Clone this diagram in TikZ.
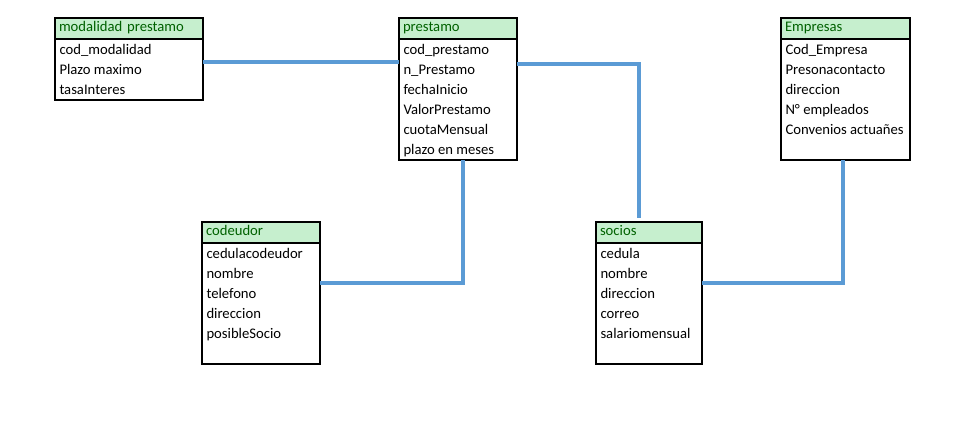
\documentclass[tikz,border=0pt]{standalone}
\usepackage{fontspec}
\setmainfont{Carlito}
\usetikzlibrary{positioning}
\definecolor{hdrgreen}{RGB}{198,239,206}
\definecolor{hdrtext}{RGB}{0,97,0}
\definecolor{linkblue}{RGB}{91,155,213}
\tikzset{every picture/.style={line width=0.75pt}}
\tikzset{
  tblhead/.style={draw, line width=1.5pt, outer sep=0pt, fill=hdrgreen, text=hdrtext, anchor=north west, inner xsep=3pt, inner ysep=0pt, minimum height=15.75pt, align=left, text height=7.5pt, text depth=2.5pt, font=\fontsize{11}{13}\selectfont},
  tblbody/.style={draw, line width=1.5pt, outer sep=0pt, inner sep=0pt},
  fld/.style={anchor=west, inner xsep=3pt, inner ysep=0pt, text height=7.5pt, text depth=2.5pt, font=\fontsize{11}{13}\selectfont},
  link/.style={draw=linkblue, line width=3pt}
}
\begin{document}
\begin{tikzpicture}[x=0.75pt,y=0.75pt,yscale=-1,xscale=1]
\useasboundingbox (0,0) rectangle (972,436);

%Table: modalidad prestamo
\node[tblhead, text width=105pt] (modhead) at (55,18) {modalidad prestamo};
\node[tblbody, below right=0pt of modhead.south west, minimum width=111pt, minimum height=45.75pt] (modbody) {};
\node[fld] (mod1) at (55,51.5) {cod\_modalidad};
\node[fld] (mod2) at (55,71.5) {Plazo maximo};
\node[fld] (mod3) at (55,91.5) {tasaInteres};

%Table: prestamo
\node[tblhead, text width=82.5pt] (prhead) at (399,18) {prestamo};
\node[tblbody, below right=0pt of prhead.south west, minimum width=88.5pt, minimum height=90.75pt] (prbody) {};
\node[fld] (pr1) at (399,51.5) {cod\_prestamo};
\node[fld] (pr2) at (399,71.5) {n\_Prestamo};
\node[fld] (pr3) at (399,91.5) {fechaInicio};
\node[fld] (pr4) at (399,111.5) {ValorPrestamo};
\node[fld] (pr5) at (399,131.5) {cuotaMensual};
\node[fld] (pr6) at (399,151.5) {plazo en meses};

%Table: Empresas
\node[tblhead, text width=90.75pt] (emphead) at (781,18) {Empresas};
\node[tblbody, below right=0pt of emphead.south west, minimum width=96.75pt, minimum height=90.75pt] (empbody) {};
\node[fld] (emp1) at (781,51.5) {Cod\_Empresa};
\node[fld] (emp2) at (781,71.5) {Presonacontacto};
\node[fld] (emp3) at (781,91.5) {direccion};
\node[fld] (emp4) at (781,111.5) {N° empleados};
\node[fld] (emp5) at (781,131.5) {Convenios actuañes};

%Table: codeudor
\node[tblhead, text width=82.5pt] (codhead) at (202,222) {codeudor};
\node[tblbody, below right=0pt of codhead.south west, minimum width=88.5pt, minimum height=90.75pt] (codbody) {};
\node[fld] (cod1) at (202,255.5) {cedulacodeudor};
\node[fld] (cod2) at (202,275.5) {nombre};
\node[fld] (cod3) at (202,295.5) {telefono};
\node[fld] (cod4) at (202,315.5) {direccion};
\node[fld] (cod5) at (202,335.5) {posibleSocio};

%Table: socios
\node[tblhead, text width=73.5pt] (sochead) at (596,222) {socios};
\node[tblbody, below right=0pt of sochead.south west, minimum width=79.5pt, minimum height=90.75pt] (socbody) {};
\node[fld] (soc1) at (596,255.5) {cedula};
\node[fld] (soc2) at (596,275.5) {nombre};
\node[fld] (soc3) at (596,295.5) {direccion};
\node[fld] (soc4) at (596,315.5) {correo};
\node[fld] (soc5) at (596,335.5) {salariomensual};

%Connector: modalidad prestamo - prestamo
\draw[link] (modbody.east |- 0,62) -- (prbody.west |- 0,62);
%Connector: prestamo - socios
\draw[link, shorten >=3pt] (prbody.east |- 0,64) -| (sochead.north -| 639,0);
%Connector: prestamo - codeudor
\draw[link] (prbody.south -| 462.5,0) |- (codbody.east |- 0,283);
%Connector: socios - Empresas
\draw[link] (socbody.east |- 0,283) -| (empbody.south -| 843,0);

\end{tikzpicture}
\end{document}
